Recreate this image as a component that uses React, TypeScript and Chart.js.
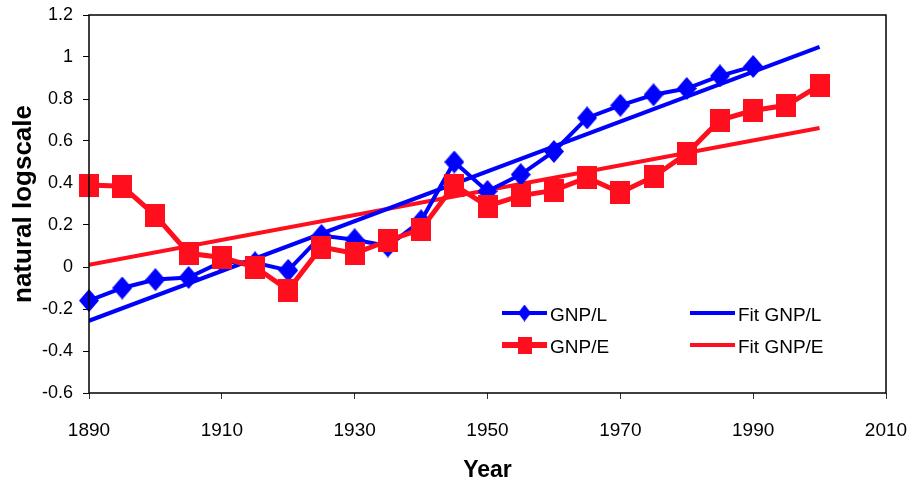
import React, { useEffect, useRef } from "react";
import { Chart, registerables } from "chart.js";

Chart.register(...registerables);

const yearsL = [1890, 1895, 1900, 1905, 1910, 1915, 1920, 1925, 1930, 1935, 1940, 1945, 1950, 1955, 1960, 1965, 1970, 1975, 1980, 1985, 1990];
const gnpL = [-0.16, -0.1, -0.06, -0.05, 0.025, 0.02, -0.016, 0.15, 0.13, 0.1, 0.22, 0.5, 0.36, 0.44, 0.55, 0.71, 0.77, 0.82, 0.85, 0.91, 0.955];

const yearsE = [1890, 1895, 1900, 1905, 1910, 1915, 1920, 1925, 1930, 1935, 1940, 1945, 1950, 1955, 1960, 1965, 1970, 1975, 1980, 1985, 1990, 1995, 2000];
const gnpE = [0.39, 0.385, 0.245, 0.065, 0.045, 0.0, -0.11, 0.095, 0.065, 0.125, 0.18, 0.39, 0.29, 0.34, 0.365, 0.425, 0.355, 0.43, 0.54, 0.7, 0.745, 0.77, 0.865];

const fitYears = [1890, 2000];
const fitL = [-0.256, 1.048];
const fitE = [0.011, 0.662];

const xTickValues = [1890, 1910, 1930, 1950, 1970, 1990, 2010];
const yTickValues = [-0.6, -0.4, -0.2, 0, 0.2, 0.4, 0.6, 0.8, 1, 1.2];

const BLUE = "#0000FF";
const RED = "#FF0F1E";
const FONT = "'Liberation Sans', Arial, sans-serif";

function makeMarker(shape: string, color: string, w: number, h: number) {
  const c = document.createElement("canvas");
  c.width = w;
  c.height = h;
  const g = c.getContext("2d")!;
  g.fillStyle = color;
  g.beginPath();
  if (shape === "diamond") {
    g.moveTo(w / 2, 0);
    g.lineTo(w, h / 2);
    g.lineTo(w / 2, h);
    g.lineTo(0, h / 2);
    g.closePath();
  } else {
    g.rect(0, 0, w, h);
  }
  g.fill();
  return c;
}

const pairs = (xs: number[], ys: number[]) => xs.map((x, i) => ({ x, y: ys[i] }));

const framePlugin = {
  id: "frameAndLegend",
  afterDraw(chart: any) {
    const { ctx, chartArea } = chart;
    ctx.save();
    ctx.strokeStyle = "#000";
    ctx.lineWidth = 1.5;
    ctx.strokeRect(chartArea.left, chartArea.top, chartArea.right - chartArea.left, chartArea.bottom - chartArea.top);

    // legend, 2 columns x 2 rows
    const slots = [
      { x: 502, y: 313, mw: 13, mh: 17 },
      { x: 502, y: 345, mw: 14, mh: 17 },
      { x: 690, y: 313, mw: 0, mh: 0 },
      { x: 690, y: 345, mw: 0, mh: 0 },
    ];
    chart.data.datasets.forEach((ds: any, i: number) => {
      const s = slots[i];
      const lineW = 45;
      ctx.strokeStyle = ds.borderColor;
      ctx.lineWidth = ds.legendLineWidth || ds.borderWidth;
      ctx.beginPath();
      ctx.moveTo(s.x, s.y);
      ctx.lineTo(s.x + lineW, s.y);
      ctx.stroke();
      if (ds.legendMarker) {
        ctx.drawImage(ds.legendMarker, s.x + lineW / 2 - s.mw / 2, s.y - s.mh / 2, s.mw, s.mh);
      }
      ctx.fillStyle = "#000";
      ctx.font = `19px ${FONT}`;
      ctx.textBaseline = "middle";
      ctx.textAlign = "left";
      ctx.fillText(ds.label, s.x + lineW + 3, s.y + 3);
    });
    ctx.restore();
  },
};

export default function App() {
  const ref = useRef<HTMLCanvasElement>(null);

  useEffect(() => {
    if (!ref.current) return;
    const diamond = makeMarker("diamond", BLUE, 20, 23);
    const square = makeMarker("square", RED, 20, 23);
    const legDiamond = makeMarker("diamond", BLUE, 13, 17);
    const legSquare = makeMarker("square", RED, 14, 17);

    const chart = new Chart(ref.current, {
      type: "line",
      data: {
        datasets: [
          {
            label: "GNP/L",
            data: pairs(yearsL, gnpL),
            borderColor: BLUE,
            backgroundColor: BLUE,
            borderWidth: 4,
            pointStyle: diamond as any,
            pointRadius: 10,
            order: 1,
            clip: false as any,
            legendMarker: legDiamond,
            legendLineWidth: 4,
          } as any,
          {
            label: "GNP/E",
            data: pairs(yearsE, gnpE),
            borderColor: RED,
            backgroundColor: RED,
            borderWidth: 5,
            pointStyle: square as any,
            pointRadius: 10,
            order: 0,
            clip: false as any,
            legendMarker: legSquare,
            legendLineWidth: 6,
          } as any,
          {
            label: "Fit GNP/L",
            data: pairs(fitYears, fitL),
            borderColor: BLUE,
            backgroundColor: BLUE,
            borderWidth: 4,
            pointRadius: 0,
            order: 2,
          } as any,
          {
            label: "Fit GNP/E",
            data: pairs(fitYears, fitE),
            borderColor: RED,
            backgroundColor: RED,
            borderWidth: 4,
            pointRadius: 0,
            order: 3,
          } as any,
        ],
      },
      options: {
        responsive: false,
        animation: false,
        layout: { padding: { top: 14, right: 25, left: 0, bottom: 0 } },
        plugins: { legend: { display: false }, tooltip: { enabled: false } },
        elements: { line: { tension: 0 } },
        scales: {
          x: {
            type: "linear",
            min: 1890,
            max: 2010,
            afterBuildTicks: (s: any) => {
              s.ticks = xTickValues.map((v) => ({ value: v }));
            },
            afterFit: (s: any) => {
              s.height = 94;
              s.paddingLeft = 0;
              s.paddingRight = 0;
            },
            ticks: {
              color: "#000",
              font: { family: FONT, size: 19 },
              padding: 20,
              maxRotation: 0,
              callback: (v: any) => String(v),
            },
            grid: { drawOnChartArea: false, drawTicks: true, tickLength: 6, color: "#333" },
            border: { display: false },
            title: {
              display: true,
              text: "Year",
              color: "#000",
              font: { family: FONT, size: 23, weight: "bold" },
              padding: { top: 0, bottom: 3 },
            },
          },
          y: {
            type: "linear",
            min: -0.6,
            max: 1.2,
            afterBuildTicks: (s: any) => {
              s.ticks = yTickValues.map((v) => ({ value: v }));
            },
            afterFit: (s: any) => {
              s.width = 89;
              s.paddingTop = 0;
              s.paddingBottom = 0;
            },
            ticks: {
              color: "#000",
              font: { family: FONT, size: 18 },
              padding: 10,
              callback: (v: any) => String(Number(Number(v).toFixed(1))),
            },
            grid: { drawOnChartArea: false, drawTicks: true, tickLength: 6, color: "#000" },
            border: { display: false },
            title: {
              display: true,
              text: "natural logscale",
              color: "#000",
              font: { family: FONT, size: 26, weight: "bold" },
              padding: { top: 8, bottom: 0 },
            },
          },
        },
      },
      plugins: [framePlugin],
    });
    return () => chart.destroy();
  }, []);

  return (
    <canvas
      ref={ref}
      width={911}
      height={487}
      style={{ position: "absolute", left: 0, top: 0, width: 911, height: 487 }}
    />
  );
}
